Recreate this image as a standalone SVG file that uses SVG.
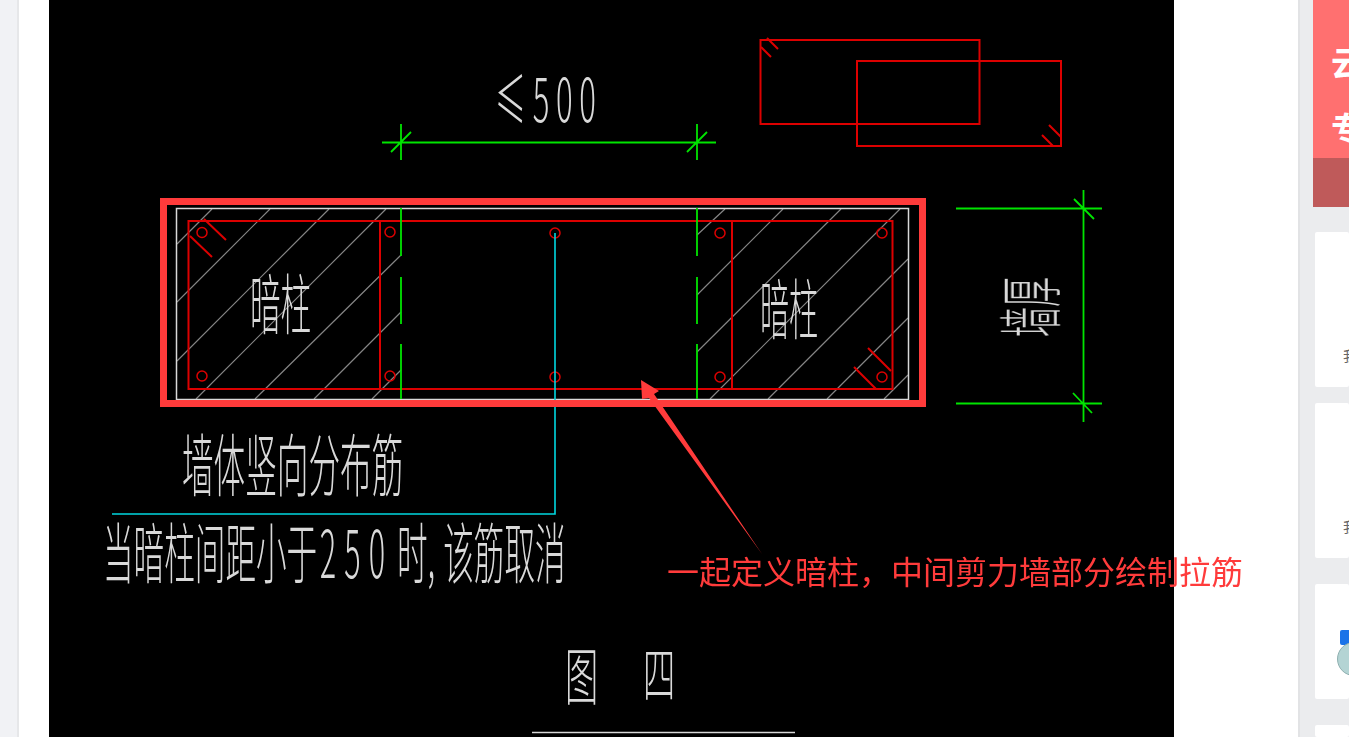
<svg xmlns="http://www.w3.org/2000/svg" width="1349" height="737" viewBox="0 0 1349 737">
<style>
.r{fill:none;stroke:#dc0000;stroke-width:2}
.g{fill:none;stroke:#00e400;stroke-width:1.8}
.h{fill:none;stroke:#858585;stroke-width:1.2}
.w{fill:none;stroke:#d8d8d8;stroke-width:1.5}
.c{fill:none;stroke:#00d8e0;stroke-width:1.6}
.t{font-family:"Noto Sans CJK SC","Liberation Sans",sans-serif;font-weight:300;fill:#dcdcdc}
.a{font-family:"Noto Sans CJK SC",sans-serif;fill:#ff3b3b;font-size:32px}
.card{fill:#fff}
.s{font-family:"Noto Sans CJK SC",sans-serif;font-size:14px;fill:#666}
.b{font-family:"Noto Sans CJK SC",sans-serif;font-size:34px;font-weight:700;fill:#fff}
</style>
<rect width="1349" height="737" fill="#fff"/>
<rect x="0" y="0" width="19" height="737" fill="#f1f2f5"/>
<rect x="17" y="0" width="2" height="737" fill="#e6e7e9"/>
<rect x="49" y="0" width="1125" height="737" fill="#000"/>
<rect x="1298" y="0" width="51" height="737" fill="#ebecee"/>
<rect x="1298" y="0" width="2" height="737" fill="#e2e3e5"/>
<g id="side-banner"><rect x="1313" y="0" width="36" height="158" fill="#ff7070"/><rect x="1313" y="158" width="36" height="49" fill="#bf5a5a"/>
<text class="b" x="1331" y="76">云</text><text class="b" x="1331" y="142">专</text></g>
<g id="side-cards">
<rect class="card" x="1315" y="232" width="34" height="155" rx="2"/>
<rect class="card" x="1315" y="403" width="34" height="155" rx="2"/>
<rect class="card" x="1315" y="584" width="34" height="115" rx="2"/>
<rect class="card" x="1315" y="725" width="34" height="12" rx="2"/>
<text class="s" x="1343" y="361">我</text>
<text class="s" x="1343" y="532">我</text>
<rect x="1340" y="630" width="12" height="15" rx="2" fill="#1a73e8"/>
<circle cx="1354" cy="659" r="16.500" fill="#b4d4d4" stroke="#8fb0b0" stroke-width="1"/>
</g>
<g id="hatch">
<path class="h" d="M177 244L212 209M177 302L270 209M177 361L329 209M196 399L386 209M255 399L401 255M314 399L401 312M372 399L401 370M697 235L725 209M697 295L783 209M697 352L841 209M710 399L900 209M768 399L908 259M827 399L908 318M884 399L908 375"/>
</g>
<g id="wall"><rect x="176.500" y="208.500" width="732" height="191" fill="none" stroke="#d8d8d8" stroke-width="1.500"/></g>
<g id="columns">
<rect class="r" x="188.500" y="221" width="704" height="168"/>
<path class="r" d="M380 221V389M732 221V389M204 219L226 240M190 236L212 257M868 348L891 371M854 367L876 389"/>
<g class="r" style="stroke-width:1.500"><circle cx="202" cy="232.500" r="5"/><circle cx="202" cy="376" r="5"/><circle cx="390" cy="232" r="5"/><circle cx="390" cy="376" r="5"/><circle cx="555" cy="233" r="5"/><circle cx="555" cy="377" r="5"/><circle cx="720" cy="233" r="5"/><circle cx="720" cy="377" r="5"/><circle cx="882" cy="233" r="5"/><circle cx="882" cy="377" r="5"/></g>
</g>
<g id="connectors">
<path class="g" d="M401 208V256M401 277V324M401 344V399M697 208V256M697 277V324M697 344V399"/>
<path class="g" d="M382 142.500H716M401 124V160M697 124V160M391 152L411 132M687 152L707 132"/>
<path class="g" d="M956 208.500H1102M956 403.500H1102M1083.500 190V422M1074 199L1094 219M1073 393L1092 413"/>
<path class="c" d="M555 233V514H112"/>
<path class="w" d="M532 732.500H795"/>
</g>
<g id="small-rects">
<rect class="r" x="760.500" y="40" width="219" height="84"/>
<rect class="r" x="857" y="61" width="204" height="85"/>
<path class="r" d="M767 38L778 49M761 47L771 57M1049 125L1061 137M1042 135L1053 146"/>
</g>
<g id="labels" opacity="0.99">
<text class="t" font-size="38" letter-spacing="8" transform="translate(495 122) scale(.82 1.6)">≤500</text>
<text class="t" font-size="30" transform="translate(250 329) scale(1.02 2.2)">暗柱</text>
<text class="t" font-size="30" transform="translate(760 334) scale(.97 2.2)">暗柱</text>
<text class="t" font-size="30" transform="translate(1055 337) rotate(-90) scale(1 2.15)">墙厚</text>
<text class="t" font-size="34" transform="translate(182 491) scale(.93 2)">墙体竖向分布筋</text>
<text class="t" font-size="34" transform="translate(103 578) scale(.9 1.95)">当暗柱间距小于<tspan dx="3" letter-spacing="9">250</tspan><tspan dx="4">时</tspan><tspan letter-spacing="9">,</tspan>该筋取消</text>
<text class="t" font-size="52" transform="translate(565 700) scale(.64 1.2)">图</text>
<text class="t" font-size="52" transform="translate(643 697) scale(.62 1.15)">四</text>
</g>
<g id="annotation">
<rect x="163.500" y="201.500" width="759" height="202" fill="none" stroke="#ff3b3b" stroke-width="7"/>
<path d="M641 380L659 391L654 394L762 554L649 398L642 399Z" fill="#ff3b3b"/>
<text class="a" x="667" y="584">一起定义暗柱&#xFF0C;中间剪力墙部分绘制拉筋</text>
</g>
</svg>
